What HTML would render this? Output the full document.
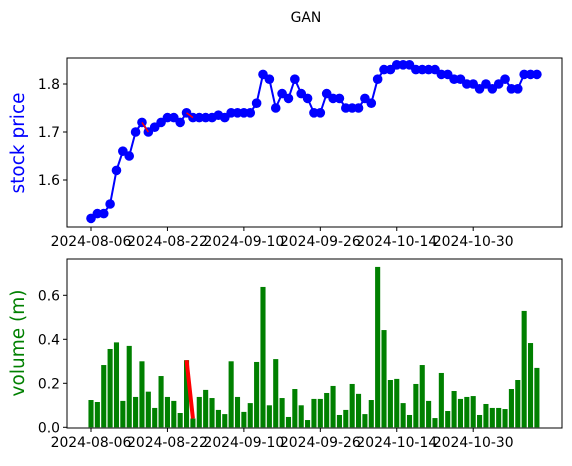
<!DOCTYPE html>
<html><head><meta charset="utf-8"><style>
body{margin:0;background:#fff;}
svg{font-family:"DejaVu Sans","Liberation Sans",sans-serif;}
</style></head><body>
<svg id="c" width="572" height="461" xmlns="http://www.w3.org/2000/svg">
<text x="306" y="22" text-anchor="middle" font-size="13.9">GAN</text>
</svg>
<script>
const tickLabels=["2024-08-06","2024-08-22","2024-09-10","2024-09-26","2024-10-14","2024-10-30"];
const tickIdx=[0,12,24,36,48,60];
const price=[1.52,1.53,1.53,1.55,1.62,1.66,1.65,1.70,1.72,1.70,1.71,1.72,1.73,1.73,1.72,1.74,1.73,1.73,1.73,1.73,1.735,1.73,1.74,1.74,1.74,1.74,1.76,1.82,1.81,1.75,1.78,1.77,1.81,1.78,1.77,1.74,1.74,1.78,1.77,1.77,1.75,1.75,1.75,1.77,1.76,1.81,1.83,1.83,1.84,1.84,1.84,1.83,1.83,1.83,1.83,1.82,1.82,1.81,1.81,1.80,1.80,1.79,1.80,1.79,1.80,1.81,1.79,1.79,1.82,1.82,1.82];
const volume=[0.124,0.115,0.283,0.356,0.386,0.12,0.37,0.138,0.30,0.162,0.088,0.233,0.138,0.12,0.065,0.305,0.04,0.138,0.17,0.133,0.079,0.06,0.30,0.138,0.07,0.11,0.297,0.638,0.10,0.31,0.133,0.047,0.174,0.10,0.033,0.129,0.129,0.156,0.188,0.056,0.079,0.197,0.152,0.06,0.124,0.729,0.442,0.215,0.22,0.11,0.056,0.197,0.283,0.12,0.042,0.247,0.074,0.165,0.129,0.138,0.142,0.056,0.106,0.088,0.088,0.083,0.174,0.215,0.529,0.383,0.27];
const priceTicks=[1.6,1.7,1.8];
const volTicks=[0.0,0.2,0.4,0.6];
const redPriceSegs=[[8,9],[15,16]];
const redVolSeg=[15,16];

const NS="http://www.w3.org/2000/svg";
const svg=document.getElementById('c');
function mk(t,a,p){const e=document.createElementNS(NS,t);for(const k in a)e.setAttribute(k,a[k]);(p||svg).appendChild(e);return e;}
const X=i=>91+i*6.37;
const YP=v=>180-(v-1.6)*480;
const YV=v=>427.3-v*220;
const L=67,R=562,T1=58,B1=227,T2=259,B2=428;

let f1=mk('rect',{x:L,y:T1,width:R-L,height:B1-T1,fill:'none',stroke:'#000','stroke-width':1});


let f2=mk('rect',{x:L,y:T2,width:R-L,height:B2-T2,fill:'none',stroke:'#000','stroke-width':1});



tickIdx.forEach((ix,k)=>{
  const x=X(ix);
  let t1=mk('line',{x1:x,x2:x,y1:B1,y2:B1+4,stroke:'#000'});
  
  
  let t2=mk('line',{x1:x,x2:x,y1:B2,y2:B2+4,stroke:'#000'});
  
  
  let a=mk('text',{x:x,y:B1+19,'text-anchor':'middle','font-size':13.9});
  a.textContent=tickLabels[k];
  
  
  let b=mk('text',{x:x,y:B2+19,'text-anchor':'middle','font-size':13.9});
  b.textContent=tickLabels[k];
  
  
});
priceTicks.forEach(v=>{
  const y=YP(v);
  let t=mk('line',{x1:L-4,x2:L,y1:y,y2:y,stroke:'#000'});
  
  
  let s=mk('text',{x:L-7,y:y+5,'text-anchor':'end','font-size':13.9});
  s.textContent=v.toFixed(1);
  
  
});
volTicks.forEach(v=>{
  const y=YV(v);
  let t=mk('line',{x1:L-4,x2:L,y1:y,y2:y,stroke:'#000'});
  
  
  let s=mk('text',{x:L-7,y:y+5,'text-anchor':'end','font-size':13.9});
  s.textContent=v.toFixed(1);
  
  
});
let yl1=mk('text',{x:0,y:0,transform:'translate(24,143) rotate(-90)','text-anchor':'middle','font-size':18.5,fill:'#0000ff'});
yl1.textContent='stock price';


let yl2=mk('text',{x:0,y:0,transform:'translate(24,343) rotate(-90)','text-anchor':'middle','font-size':18.5,fill:'#008000'});
yl2.textContent='volume (m)';



let pl=mk('polyline',{points:price.map((v,i)=>X(i)+','+YP(v)).join(' '),fill:'none',stroke:'#0000ff','stroke-width':2});


price.forEach((v,i)=>{
  let c=mk('circle',{cx:X(i),cy:YP(v),r:4.8,fill:'#0000ff'});
  
  
});
redPriceSegs.forEach(s=>{
  let l=mk('line',{x1:X(s[0]),y1:YP(price[s[0]]),x2:X(s[1]),y2:YP(price[s[1]]),stroke:'#ff0000','stroke-width':1.5});
  
  
});

volume.forEach((v,i)=>{
  let r=mk('rect',{x:X(i)-2.55,y:YV(v),width:5.1,height:YV(0)-YV(v),fill:'#008000'});
  
  
});
let rv=mk('line',{x1:X(redVolSeg[0]),y1:YV(volume[redVolSeg[0]]),x2:X(redVolSeg[1]),y2:YV(volume[redVolSeg[1]]),stroke:'#ff0000','stroke-width':4});


</script>
</body></html>
